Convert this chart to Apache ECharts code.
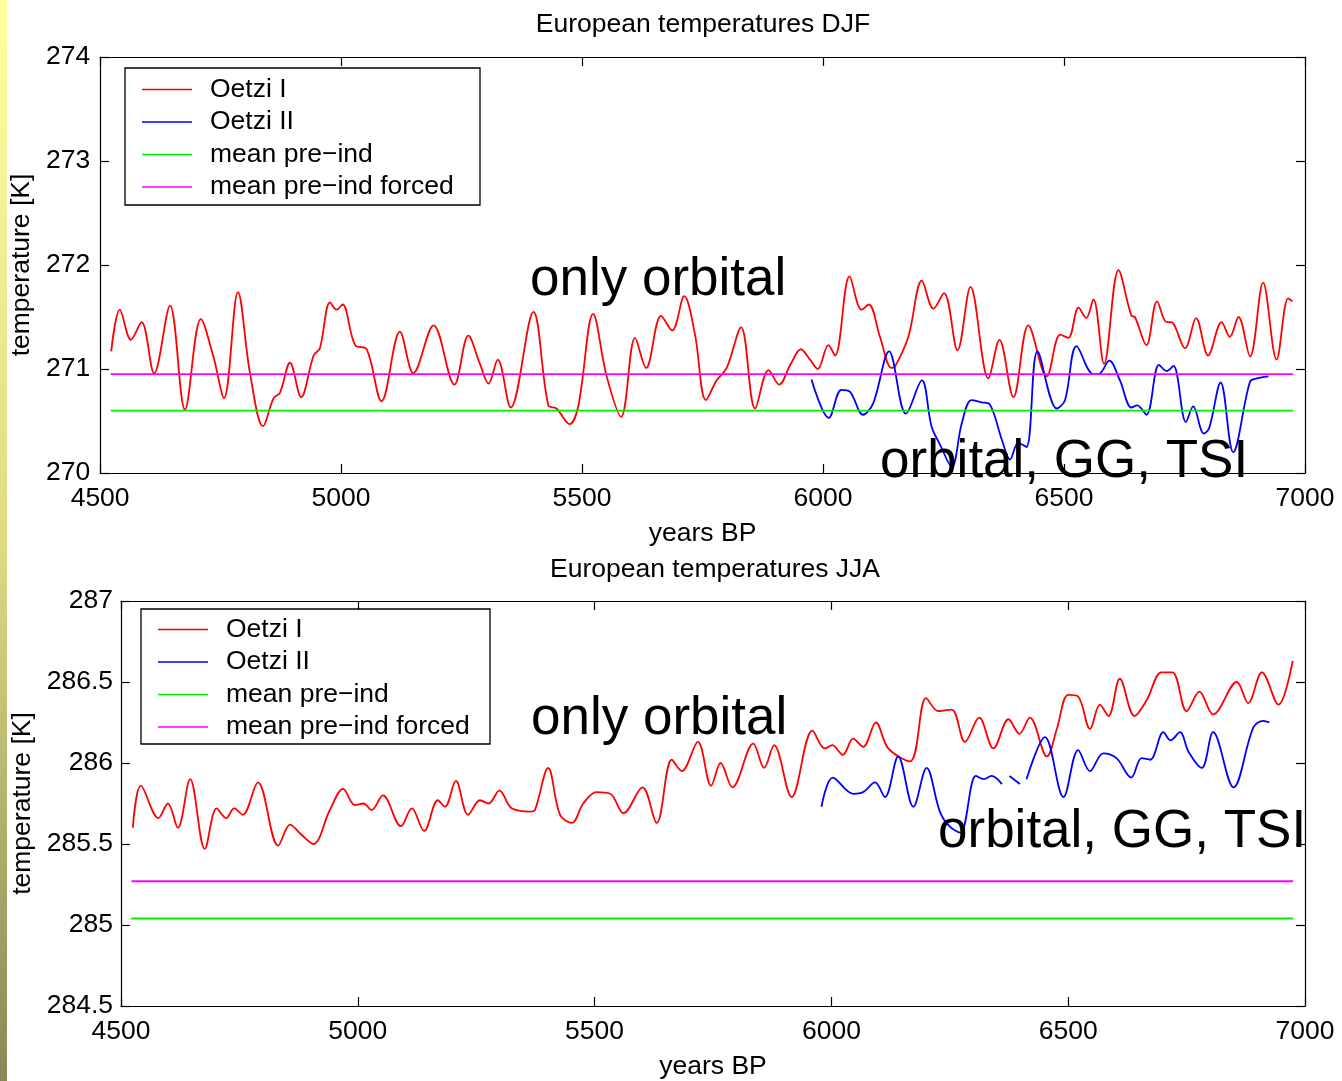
<!DOCTYPE html>
<html>
<head>
<meta charset="utf-8">
<title>European temperatures</title>
<script src="https://cdn.jsdelivr.net/npm/echarts@6/dist/echarts.min.js"></script>
<style>
  html, body { margin: 0; padding: 0; background: #fff; }
  #chart { width: 1342px; height: 1081px; }
</style>
</head>
<body>
<div id="chart"></div>
<script>
// years BP, temperature [K]
const djfOetziI = [
  [4523, 271.17], [4541, 271.57], [4564, 271.28], [4586, 271.45], [4612, 270.96], [4645, 271.61],
  [4676, 270.61], [4709, 271.48], [4735, 271.12], [4757, 270.72], [4786, 271.74], [4811, 270.96],
  [4838, 270.45], [4860, 270.72], [4873, 270.77], [4894, 271.06], [4917, 270.73], [4943, 271.13],
  [4956, 271.20], [4977, 271.64], [4991, 271.57], [5003, 271.62], [5029, 271.23], [5053, 271.19],
  [5084, 270.69], [5122, 271.36], [5150, 270.96], [5192, 271.42], [5235, 270.85], [5264, 271.32],
  [5288, 271.05], [5306, 270.86], [5325, 271.09], [5352, 270.63], [5399, 271.55], [5430, 270.65],
  [5447, 270.62], [5474, 270.47], [5492, 270.64], [5523, 271.53], [5551, 270.93], [5581, 270.54],
  [5610, 271.30], [5633, 271.01], [5664, 271.51], [5687, 271.37], [5712, 271.70], [5734, 271.34],
  [5757, 270.70], [5779, 270.89], [5800, 271.01], [5830, 271.40], [5859, 270.62], [5887, 270.99],
  [5909, 270.85], [5932, 271.04], [5954, 271.19], [5973, 271.09], [5989, 271.00], [6011, 271.23],
  [6025, 271.13], [6055, 271.89], [6080, 271.57], [6095, 271.62], [6118, 271.31], [6142, 271.01],
  [6149, 271.02], [6177, 271.31], [6205, 271.85], [6229, 271.58], [6251, 271.73], [6279, 271.18],
  [6306, 271.79], [6343, 270.91], [6366, 271.28], [6395, 270.73], [6426, 271.42], [6464, 270.93],
  [6492, 271.33], [6509, 271.30], [6530, 271.59], [6546, 271.49], [6561, 271.67], [6583, 271.05],
  [6613, 271.95], [6640, 271.51], [6647, 271.50], [6671, 271.23], [6693, 271.65], [6713, 271.45],
  [6722, 271.45], [6751, 271.20], [6774, 271.49], [6799, 271.13], [6827, 271.45], [6844, 271.31],
  [6862, 271.50], [6886, 271.12], [6913, 271.83], [6941, 271.09], [6965, 271.68], [6974, 271.65]
];
const djfOetziII = [
  [5976, 270.90], [6012, 270.53], [6038, 270.80], [6056, 270.78], [6083, 270.56], [6104, 270.67],
  [6137, 271.17], [6172, 270.57], [6205, 270.89], [6225, 270.45], [6243, 270.27], [6267, 270.06],
  [6288, 270.48], [6308, 270.70], [6329, 270.68], [6346, 270.66], [6371, 270.32], [6388, 270.13],
  [6405, 270.29], [6422, 270.25], [6445, 271.17], [6485, 270.62], [6502, 270.70], [6526, 271.22],
  [6561, 270.95], [6575, 270.96], [6594, 271.08], [6616, 270.89], [6640, 270.63], [6652, 270.65],
  [6671, 270.56], [6697, 271.04], [6713, 270.98], [6727, 271.03], [6753, 270.49], [6768, 270.64],
  [6790, 270.38], [6801, 270.43], [6825, 270.87], [6851, 270.20], [6886, 270.88], [6900, 270.91],
  [6924, 270.93]
];
const jjaOetziI = [
  [4525, 285.60], [4542, 285.86], [4579, 285.66], [4599, 285.75], [4620, 285.60], [4646, 285.90],
  [4677, 285.47], [4702, 285.72], [4722, 285.66], [4739, 285.72], [4757, 285.68], [4789, 285.88],
  [4832, 285.49], [4857, 285.62], [4880, 285.56], [4906, 285.50], [4941, 285.71], [4969, 285.84],
  [4994, 285.74], [5012, 285.75], [5029, 285.71], [5053, 285.80], [5091, 285.61], [5114, 285.72],
  [5140, 285.58], [5169, 285.77], [5184, 285.73], [5207, 285.89], [5233, 285.68], [5258, 285.77],
  [5276, 285.75], [5299, 285.83], [5325, 285.72], [5364, 285.70], [5374, 285.71], [5402, 285.97],
  [5427, 285.68], [5452, 285.63], [5476, 285.75], [5504, 285.82], [5533, 285.81], [5561, 285.69],
  [5601, 285.85], [5631, 285.63], [5663, 286.02], [5684, 285.95], [5718, 286.13], [5746, 285.86],
  [5766, 286.00], [5791, 285.85], [5835, 286.12], [5858, 285.97], [5879, 286.11], [5916, 285.79],
  [5960, 286.20], [5986, 286.09], [6002, 286.11], [6024, 286.05], [6046, 286.15], [6067, 286.10],
  [6094, 286.25], [6120, 286.09], [6166, 286.01], [6200, 286.40], [6226, 286.32], [6254, 286.33],
  [6282, 286.13], [6312, 286.28], [6342, 286.09], [6374, 286.27], [6397, 286.18], [6419, 286.28],
  [6455, 286.04], [6476, 286.21], [6500, 286.42], [6521, 286.41], [6546, 286.21], [6567, 286.36],
  [6585, 286.29], [6609, 286.52], [6640, 286.29], [6666, 286.39], [6697, 286.56], [6720, 286.56],
  [6750, 286.32], [6777, 286.44], [6806, 286.30], [6856, 286.50], [6880, 286.37], [6909, 286.56],
  [6944, 286.36], [6974, 286.63]
];
const jjaOetziII = [
  [5979, 285.73], [6003, 285.91], [6046, 285.81], [6067, 285.82], [6092, 285.88], [6113, 285.79],
  [6141, 286.04], [6173, 285.73], [6201, 285.97], [6229, 285.70], [6249, 285.61], [6272, 285.57],
  [6305, 285.92], [6322, 285.90], [6338, 285.92], [6360, 285.87], [6368, null],
  [6376, 285.92], [6398, 285.87], [6405, null],
  [6412, 285.90], [6451, 286.16], [6490, 285.79], [6521, 286.08], [6546, 285.95], [6574, 286.06],
  [6602, 286.03], [6633, 285.91], [6655, 286.03], [6673, 286.02], [6701, 286.19], [6716, 286.14],
  [6736, 286.19], [6754, 286.07], [6782, 285.97], [6806, 286.19], [6849, 285.85], [6891, 286.22],
  [6912, 286.26], [6925, 286.25]
];
const meanSpan = [4522, 6975];
const djfMeanPreInd = 270.60;
const djfMeanForced = 270.95;
const jjaMeanPreInd = 285.04;
const jjaMeanForced = 285.27;

const xTicks = { min: 4500, max: 7000, interval: 500 };
const djfTicks = { min: 270, max: 274, interval: 1 };
const jjaTicks = { min: 284.5, max: 287, interval: 0.5 };
const legendNames = ['Oetzi I', 'Oetzi II', 'mean pre\u2212ind', 'mean pre\u2212ind forced'];
const colors = ['#ff0000', '#0000ff', '#00ee00', '#ff00ff'];

const FONT = '"Liberation Sans", Arial, Helvetica, sans-serif';
const FS = 26.5;

function flat(v) {
  return meanSpan.map(x => [x, v]);
}

function xAxisCfg(grid, pos, withLabels) {
  return {
    type: 'value', gridIndex: grid, position: pos,
    min: xTicks.min, max: xTicks.max, interval: xTicks.interval,
    name: withLabels ? 'years BP' : '', nameLocation: 'middle', nameGap: 47,
    nameTextStyle: { fontSize: FS, color: '#000', fontFamily: FONT },
    axisLine: { show: true, onZero: false, lineStyle: { color: '#000', width: 1.2 } },
    axisTick: { show: true, inside: true, length: 9, lineStyle: { color: '#000', width: 1.2 } },
    axisLabel: { show: withLabels, fontSize: FS, color: '#000', fontFamily: FONT, margin: 12,
      formatter: v => String(v) },
    splitLine: { show: false }
  };
}

function yAxisCfg(grid, pos, ticks, withLabels, nameGap, margin) {
  return {
    type: 'value', gridIndex: grid, position: pos,
    min: ticks.min, max: ticks.max, interval: ticks.interval,
    name: withLabels ? 'temperature [K]' : '', nameLocation: 'middle', nameGap: nameGap,
    nameTextStyle: { fontSize: FS, color: '#000', fontFamily: FONT },
    axisLine: { show: true, onZero: false, lineStyle: { color: '#000', width: 1.2 } },
    axisTick: { show: true, inside: true, length: 9, lineStyle: { color: '#000', width: 1.2 } },
    axisLabel: { show: withLabels, fontSize: FS, color: '#000', fontFamily: FONT, margin: margin,
      formatter: v => String(v) },
    splitLine: { show: false }
  };
}

function line(name, data, color, axis) {
  return {
    name: name, type: 'line', data: data,
    xAxisIndex: axis, yAxisIndex: axis,
    symbol: 'none', smooth: 0.35, connectNulls: false,
    color: color,
    lineStyle: { color: color, width: 1.8 },
    silent: true
  };
}

function legendCfg(left, top) {
  return {
    data: legendNames, orient: 'vertical', left: left, top: top,
    icon: 'rect', itemWidth: 50, itemHeight: 1.5, itemGap: 5.5,
    padding: 0, selectedMode: false,
    textStyle: { fontSize: FS, lineHeight: 26.5, color: '#000', fontFamily: FONT, padding: [0, 0, 0, 13] }
  };
}

function bigText(x, y, text) {
  return {
    type: 'text', x: x, y: y, z: 100,
    style: { text: text, fontSize: 53, fontFamily: FONT, fill: '#000', verticalAlign: 'middle' }
  };
}

function titleText(x, y, text) {
  return {
    type: 'text', x: x, y: y,
    style: { text: text, fontSize: FS, fontFamily: FONT, fill: '#000', align: 'center', verticalAlign: 'middle' }
  };
}

const chart = echarts.init(document.getElementById('chart'));

chart.setOption({
  animation: false,
  backgroundColor: '#fff',
  grid: [
    { left: 100, right: 37, top: 57, height: 416 },
    { left: 121, right: 37, top: 601, height: 408 }
  ],
  xAxis: [
    xAxisCfg(0, 'bottom', true),
    xAxisCfg(0, 'top', false),
    xAxisCfg(1, 'bottom', true),
    xAxisCfg(1, 'top', false)
  ],
  yAxis: [
    yAxisCfg(0, 'left', djfTicks, true, 60, 10),
    yAxisCfg(0, 'right', djfTicks, false, 0, 0),
    yAxisCfg(1, 'left', jjaTicks, true, 81, 8),
    yAxisCfg(1, 'right', jjaTicks, false, 0, 0)
  ],
  legend: [legendCfg(142, 76), legendCfg(158, 616)],
  series: [
    line(legendNames[0], djfOetziI, colors[0], 0),
    line(legendNames[1], djfOetziII, colors[1], 0),
    line(legendNames[2], flat(djfMeanPreInd), colors[2], 0),
    line(legendNames[3], flat(djfMeanForced), colors[3], 0),
    line(legendNames[0], jjaOetziI, colors[0], 2),
    line(legendNames[1], jjaOetziII, colors[1], 2),
    line(legendNames[2], flat(jjaMeanPreInd), colors[2], 2),
    line(legendNames[3], flat(jjaMeanForced), colors[3], 2)
  ],
  graphic: [
    {
      type: 'rect', shape: { x: 0, y: 0, width: 7, height: 1081 }, z: 0,
      style: {
        fill: new echarts.graphic.LinearGradient(0, 0, 0, 1, [
          { offset: 0, color: '#ffff9e' },
          { offset: 0.5, color: '#dedb84' },
          { offset: 1, color: '#8a8756' }
        ])
      }
    },
    { type: 'rect', shape: { x: 125, y: 68, width: 355, height: 137 }, z: 0,
      style: { fill: '#fff', stroke: '#000', lineWidth: 1.3 } },
    { type: 'rect', shape: { x: 141, y: 609, width: 349, height: 135 }, z: 0,
      style: { fill: '#fff', stroke: '#000', lineWidth: 1.3 } },
    titleText(703, 25, 'European temperatures DJF'),
    titleText(715, 570, 'European temperatures JJA'),
    bigText(530, 280, 'only orbital'),
    bigText(880, 462, 'orbital, GG, TSI'),
    bigText(531, 719, 'only orbital'),
    bigText(938, 832, 'orbital, GG, TSI')
  ]
});
</script>
</body>
</html>
